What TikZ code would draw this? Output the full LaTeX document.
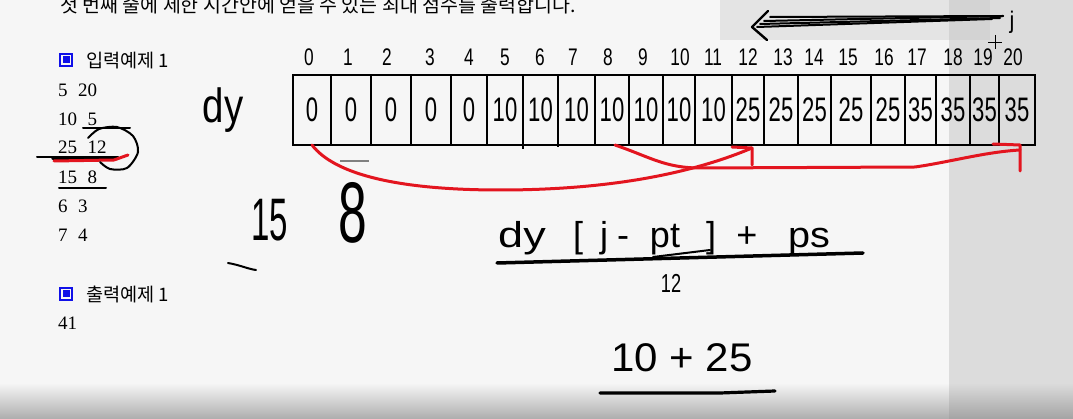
\documentclass[tikz,border=0pt]{standalone}
\usepackage{fontspec}
\usepackage{graphicx}
\newfontfamily\kor{Noto Sans CJK KR}
\newfontfamily\hand{Liberation Sans}
\newfontfamily\serifd[WordSpace=2.2]{Liberation Serif}
\newcommand\hwtext[3]{\scalebox{#2}[1]{\fontsize{#1}{#1}\selectfont #3}}
\definecolor{bgc}{HTML}{F6F6F6}
\definecolor{bgr}{HTML}{DCDCDC}
\definecolor{bgt}{HTML}{E4E4E4}
\definecolor{bgtr}{HTML}{D3D3D3}
\definecolor{penred}{HTML}{E3151F}
\definecolor{iconblue}{HTML}{1010E8}
\begin{document}
\begin{tikzpicture}[x=1pt,y=-1pt,
  cell/.style={draw=black, line width=2.4pt, inner sep=0pt, outer sep=0pt,
    minimum height=70pt, font=\hand},
  idx/.style={inner sep=0pt, font=\hand},
  hw/.style={inner sep=0pt, font=\hand},
  kr/.style={inner sep=0pt, font=\kor\fontsize{18.6}{20}\selectfont},
  num/.style={inner sep=0pt, font=\serifd\fontsize{19}{22}\selectfont},
  redpen/.style={draw=penred, line width=3pt, line cap=round, line join=round},
  blackpen/.style={draw=black, line width=2.4pt, line cap=round, line join=round}]
\useasboundingbox (0,0) rectangle (1073,419);
% background
\fill[bgc] (0,0) rectangle (1073,419);
\fill[bgt] (720,0) rectangle (990,40);
\fill[bgr] (949,0) rectangle (1073,419);
\fill[bgtr] (949,0) rectangle (990,40);
\shade[top color=bgc, bottom color=black!32] (0,383) rectangle (949,419);
\shade[top color=bgr, bottom color=black!36] (949,383) rectangle (1073,419);
% top text (cut off at the top edge, as in the screenshot)
\node[inner sep=0pt, anchor=base west, font=\kor\fontsize{19.5}{22}\selectfont] (top) at (60,12.5)
  {첫 번째 줄에 제한 시간안에 얻을 수 있는 최대 점수를 출력합니다.};
% left panel
\draw[iconblue, line width=1.6pt] (59.8,53.8) rectangle (72.2,66.2);
\fill[iconblue] (62.5,56.5) rectangle (69.5,63.5);
\node[kr, anchor=west] (h1) at (86,61) {입력예제 1};
\node[num, anchor=west] (r1) at (58,90) {5 20};
\node[num, anchor=west] (r2) at (58,119) {10 5};
\node[num, anchor=west] (r3) at (58,147) {25 12};
\node[num, anchor=west] (r4) at (58,177) {15 8};
\node[num, anchor=west] (r5) at (58,206) {6 3};
\node[num, anchor=west] (r6) at (58,235) {7 4};
\draw[iconblue, line width=1.6pt] (59.8,287.8) rectangle (72.2,300.2);
\fill[iconblue] (62.5,290.5) rectangle (69.5,297.5);
\node[kr, anchor=west] (h2) at (86,294) {출력예제 1};
\node[num, anchor=west] (o1) at (58,323) {41};
% annotations on the input
\draw[blackpen, line width=2pt] (83,128) -- (130,128);
\draw[blackpen, line width=2pt] (37,157) -- (118,157);
\draw[blackpen, line width=3.5pt] (53,158) -- (114,158);
\draw[redpen] (54,161) -- (114,160) -- (128,155);
\draw[blackpen, line width=2pt] plot[smooth] coordinates {(88,138) (99,129) (117,127) (133,136) (138,152) (127,168) (110,169) (100,162)};
\draw[blackpen, line width=2pt] (59,188) -- (106,188);
% dy label
\node[hw] (dy) at (223,110) {\hwtext{48}{0.8}{dy}};
% array cells
\foreach \l/\r/\v [count=\i from 0] in {293/331/0,331/371/0,371/411/0,411/451/0,451/487/0,487/523/10,523/558/10,558/595/10,595/629/10,629/663/10,663/695/10,695/732/10,732/764/25,764/798/25,798/831/25,831/871/25,871/905/25,905/936/35,936/970/35,970/999/35,999/1035/35}{
  \pgfmathsetmacro\w{\r-\l}
  \pgfmathsetmacro\cx{(\l+\r)/2}
  \node[cell, minimum width=\w pt] (c\i) at (\cx,110) {\hwtext{34}{0.65}{\v}};
}
% index labels
\foreach \x/\t [count=\i from 0] in {309/0,348/1,387/2,430/3,469/4,505/5,540/6,573/7,608/8,643/9,680/10,713/11,748/12,783/13,814/14,848/15,884/16,917/17,953/18,983/19,1013/20}{
  \node[idx] (i\i) at (\x,57) {\hwtext{24}{0.72}{\t}};
}
% small ticks below array
\draw[black, line width=2pt] (c6.south west) -- ++(0,4);
\draw[black, line width=2pt] (c7.south west) -- ++(0,2);
\draw[gray, line width=2pt] (340,161) -- (369,161);
% top arrow j
\draw[blackpen, line width=2pt] (1003,16) -- (770,17);
\draw[blackpen, line width=2pt] (1000,18) -- (760,24);
\draw[blackpen, line width=2pt] (992,19) -- (757,27);
\draw[blackpen, line width=2pt] (1003,16) -- (764,21);
\draw[blackpen, line width=2.4pt] (768,11) -- (752,27) -- (767,40);
\node[hw] (jlab) at (1012,22) {\hwtext{24}{0.9}{j}};
\draw[black, line width=0.9pt] (988,42) -- (1002,42) (995,35) -- (995,49);
% red connectors
\draw[redpen] (c0.south) .. controls (335,175) and (400,190) .. (500,190)
  .. controls (620,190) and (700,170) .. ([xshift=4pt,yshift=-3pt]c12.south);
\draw[redpen] ([xshift=-16pt,yshift=-2pt]c12.south) -- ([xshift=4pt,yshift=-3pt]c12.south) -- ([xshift=4pt,yshift=-20pt]c12.south);
\draw[redpen] ([xshift=3pt]c8.south) .. controls (650,157) and (665,168) .. (700,168) -- (915,167)
  .. controls (950,162) and (985,152) .. ([xshift=3pt,yshift=-5pt]c20.south);
\draw[redpen] ([xshift=-24pt,yshift=1pt]c20.south) -- ([xshift=3pt]c20.south) -- ([xshift=3pt,yshift=-26pt]c20.south);
% 15 8
\node[hw] (n15) at (270,220) {\hwtext{60}{0.55}{15}};
\node[hw] (n8) at (353,213) {\hwtext{86}{0.6}{8}};
\draw[blackpen, line width=2pt] (228,263) .. controls (240,265) and (248,269) .. (256,270);
% formula
\node[hw, anchor=base] (f1) at (522,248) {\hwtext{36}{1.25}{dy}};
\node[hw, anchor=base] (f2) at (578,248) {\hwtext{36}{1}{[}};
\node[hw, anchor=base] (f3) at (604,248) {\hwtext{36}{1}{j}};
\node[hw, anchor=base] (f4) at (623,248) {\hwtext{36}{1}{-}};
\node[hw, anchor=base] (f5) at (665,248) {\hwtext{36}{1}{pt}};
\node[hw, anchor=base] (f6) at (711,248) {\hwtext{36}{1}{]}};
\node[hw, anchor=base] (f7) at (747,248) {\hwtext{36}{1}{+}};
\node[hw, anchor=base] (f8) at (809,248) {\hwtext{36}{1.1}{ps}};
\draw[blackpen, line width=3.5pt] (497,263) -- (863,253);
\draw[blackpen, line width=2pt] (653,257) -- (710,250);
\node[hw] (n12) at (671,283) {\hwtext{26}{0.7}{12}};
% 10 + 25
\node[hw] (sum) at (682,358) {\hwtext{40}{1.05}{10 + 25}};
\draw[blackpen, line width=3.2pt] (600,393) -- (720,393) -- (775,391);
\end{tikzpicture}
\end{document}
